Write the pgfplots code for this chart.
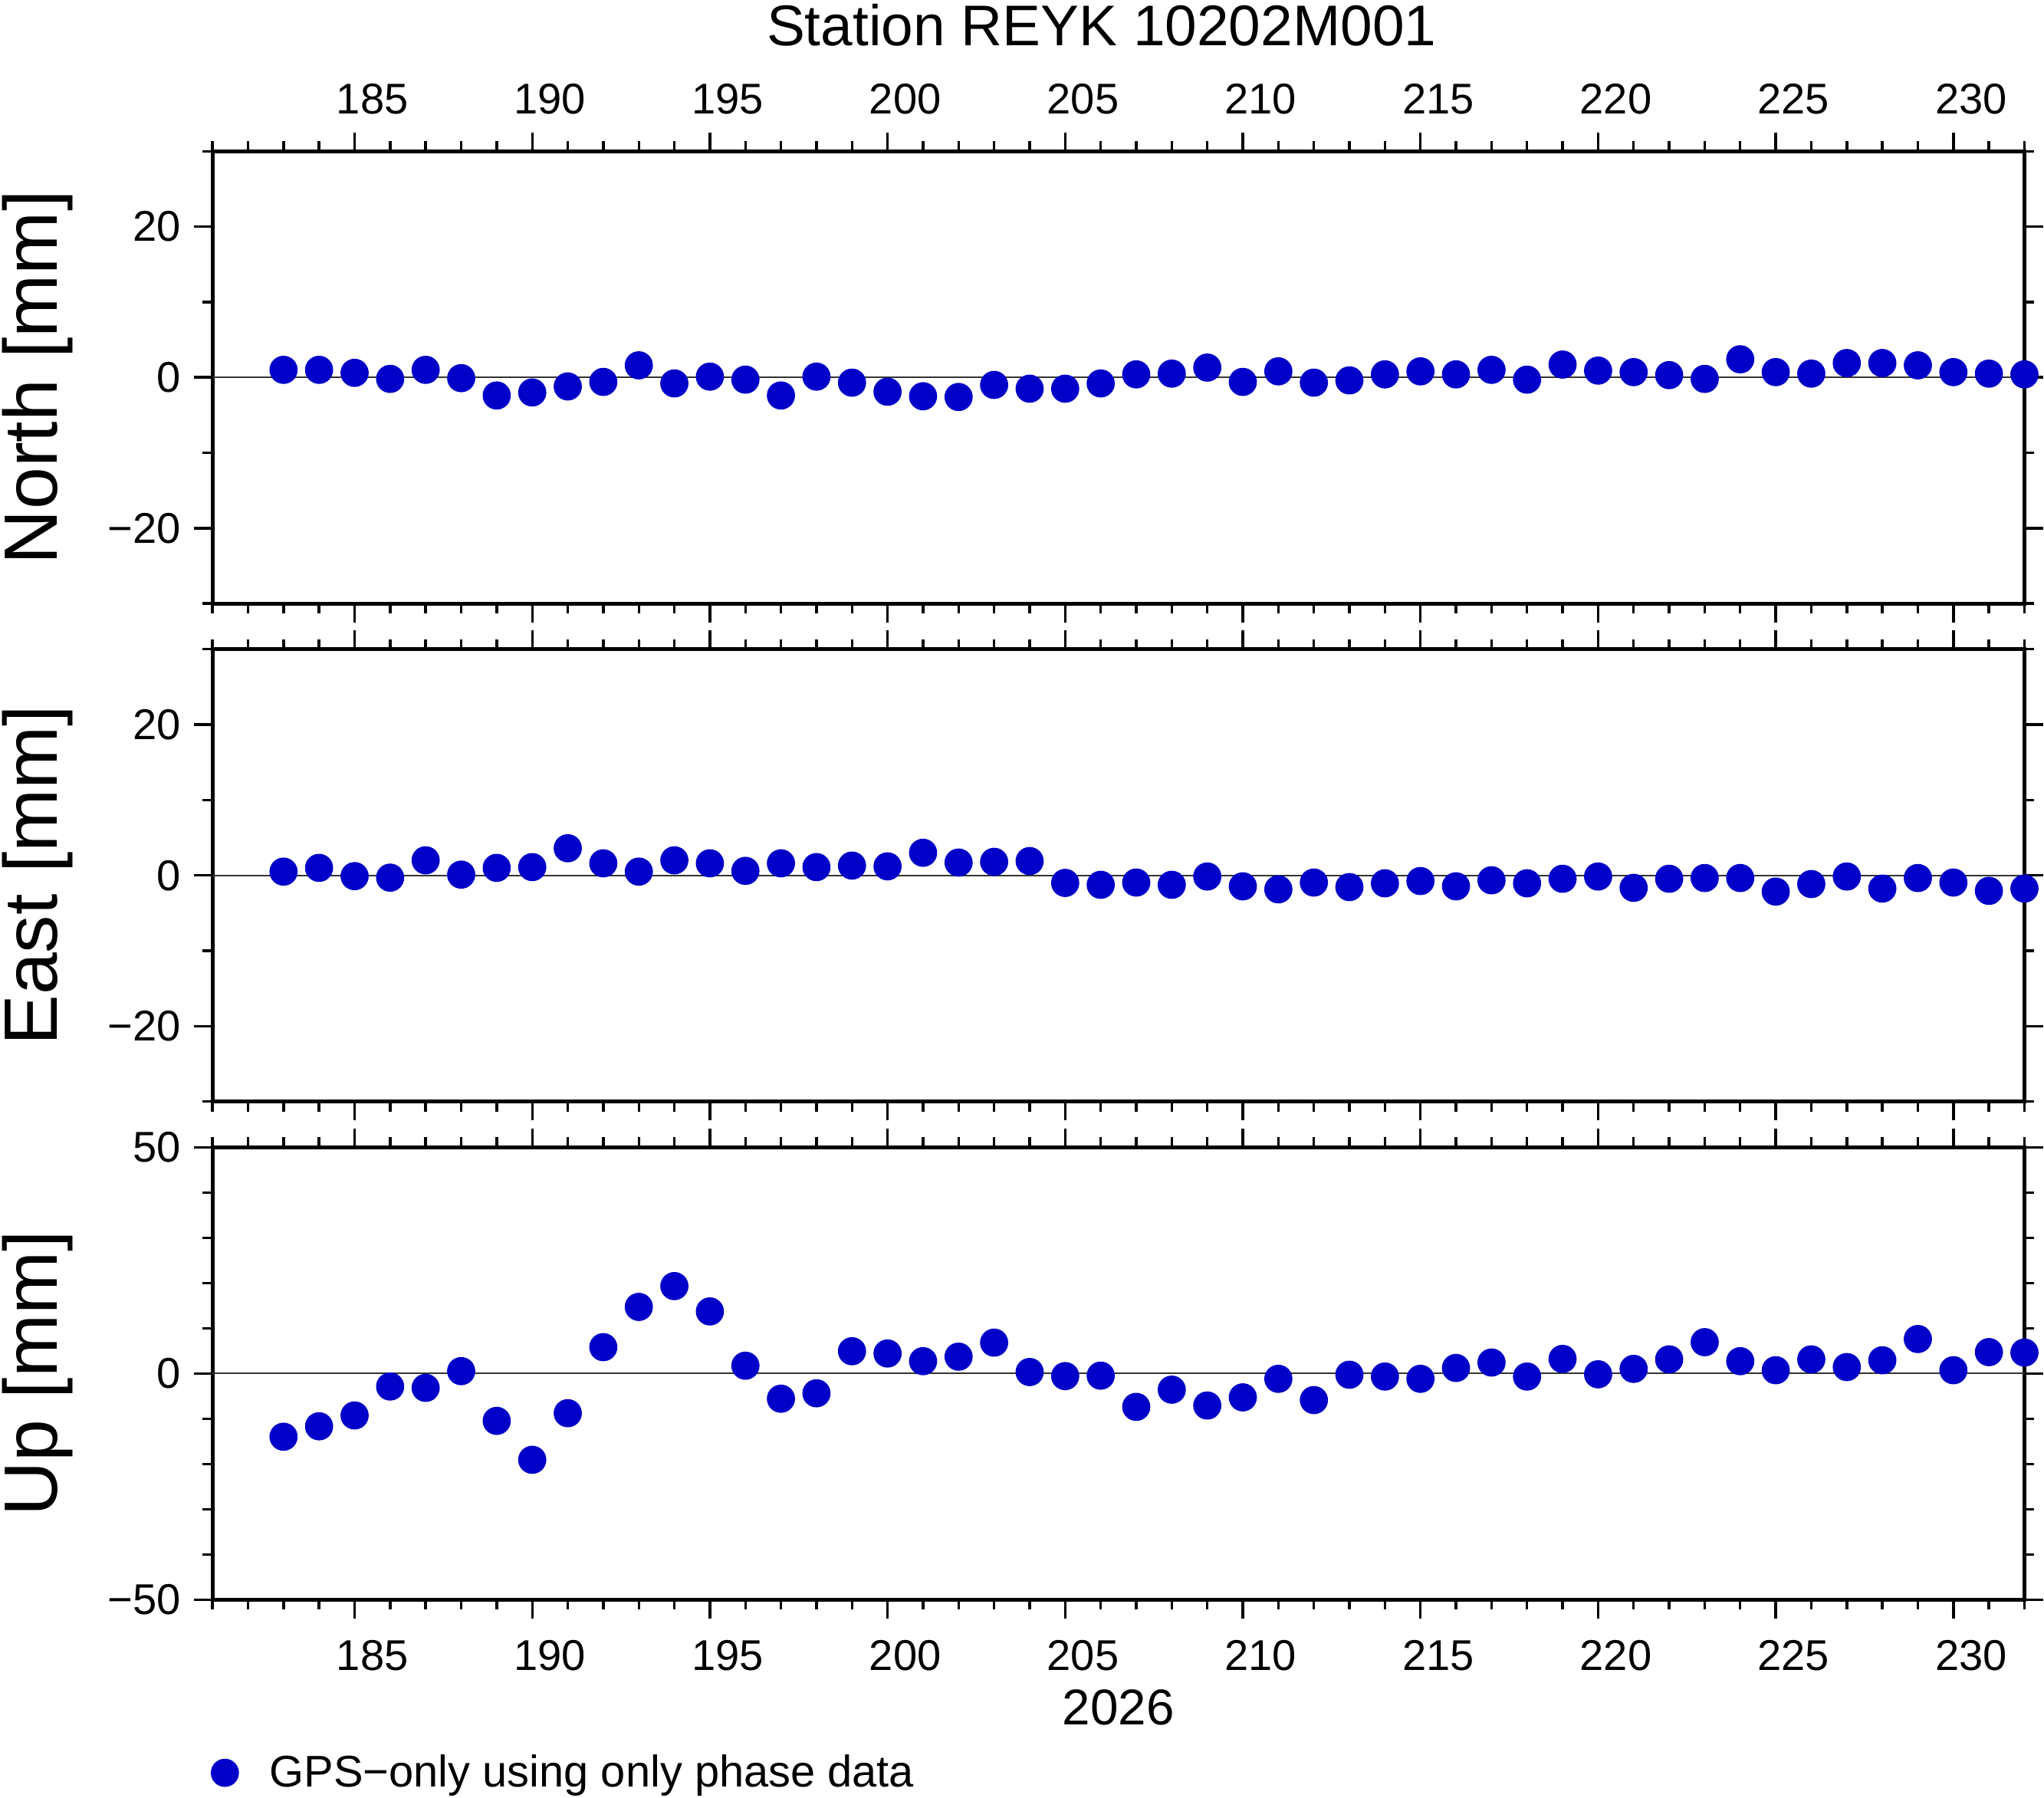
\documentclass[border=0pt]{standalone}
\usepackage{pgfplots}
\pgfplotsset{compat=1.18}
\usepackage{pgfplotstable}
\usepackage{fontspec}
\setmainfont{Liberation Sans}
\definecolor{gmtblue}{RGB}{0,0,200}

\pgfplotstableread{
x y
183 1.0
184 1.0
185 0.6
186 -0.2
187 1.0
188 -0.1
189 -2.4
190 -2.0
191 -1.2
192 -0.6
193 1.6
194 -0.8
195 0.1
196 -0.3
197 -2.4
198 0.1
199 -0.7
200 -1.9
201 -2.5
202 -2.6
203 -1.0
204 -1.5
205 -1.5
206 -0.8
207 0.4
208 0.5
209 1.3
210 -0.6
211 0.8
212 -0.7
213 -0.4
214 0.4
215 0.8
216 0.4
217 1.0
218 -0.3
219 1.7
220 0.9
221 0.7
222 0.3
223 -0.2
224 2.4
225 0.7
226 0.5
227 1.9
228 1.9
229 1.6
230 0.7
231 0.5
232 0.4
}\north

\pgfplotstableread{
x y
183 0.5
184 1.0
185 -0.1
186 -0.3
187 2.0
188 0.1
189 1.0
190 1.1
191 3.6
192 1.6
193 0.5
194 2.0
195 1.6
196 0.6
197 1.6
198 1.1
199 1.3
200 1.2
201 3.0
202 1.7
203 1.8
204 1.9
205 -1.0
206 -1.25
207 -0.95
208 -1.25
209 -0.15
210 -1.45
211 -1.85
212 -0.95
213 -1.55
214 -1.05
215 -0.75
216 -1.45
217 -0.65
218 -1.05
219 -0.45
220 -0.15
221 -1.65
222 -0.45
223 -0.35
224 -0.35
225 -2.15
226 -1.15
227 -0.15
228 -1.75
229 -0.35
230 -0.95
231 -2.05
232 -1.75
}\east

\pgfplotstableread{
x y
183 -14.0
184 -11.7
185 -9.3
186 -2.9
187 -3.2
188 0.5
189 -10.5
190 -19.1
191 -8.8
192 5.8
193 14.7
194 19.3
195 13.7
196 1.7
197 -5.6
198 -4.4
199 4.9
200 4.4
201 2.7
202 3.7
203 6.8
204 0.3
205 -0.6
206 -0.5
207 -7.4
208 -3.6
209 -7.1
210 -5.3
211 -1.2
212 -5.9
213 -0.3
214 -0.7
215 -1.2
216 1.2
217 2.4
218 -0.7
219 3.2
220 -0.2
221 1.0
222 3.1
223 6.9
224 2.7
225 0.7
226 3.1
227 1.4
228 2.9
229 7.6
230 0.7
231 4.7
232 4.6
}\up

\pgfplotsset{
  panel/.style={
    scale only axis, width=695pt, height=173.5pt,
    xmin=181, xmax=232,
    xtick={185,190,...,230}, minor xtick={181,...,232},
    tick align=outside, tick pos=both,
    major tick length=7.2pt, minor tick length=3.8pt,
    tick style={black, line width=1pt},
    axis line style={line width=1.4pt},
    clip=false,
    yticklabel pos=left,
    ticklabel style={font=\fontsize{16.5}{18}\selectfont},
    /pgf/number format/assume math mode=true,
    xticklabel style={xshift=6.8pt},
    yticklabel style={xshift=-1.5pt},
    ylabel style={at={(axis description cs:-0.0965,0.5)}, anchor=center,
      font=\fontsize{29}{31}\selectfont},
  },
  dots/.style={only marks, color=gmtblue, mark=*, mark size=5.25pt,
    mark options={solid, draw=gmtblue, fill=gmtblue, line width=0.3pt}},
  zline/.style={black!80, line width=0.5pt, forget plot},
}

\begin{document}
\begin{tikzpicture}
\useasboundingbox (0,0) rectangle (784pt,689.6pt);

\node[anchor=base, font=\fontsize{22}{24}\selectfont] at (422.5pt,672.1pt) {Station REYK 10202M001};

\begin{axis}[panel, at={(81.5pt,458.1pt)}, anchor=south west,
  ymin=-30, ymax=30, ytick={-20,0,20}, minor ytick={-30,-10,10,30},
  yticklabels={−20,0,20},
  xticklabel pos=right,
  xticklabel style={yshift=3.5pt},
  ylabel={North [mm]}]
\addplot[zline] coordinates {(181,0) (232,0)};
\addplot[dots] table {\north};
\end{axis}

\begin{axis}[panel, at={(81.5pt,267.1pt)}, anchor=south west,
  ymin=-30, ymax=30, ytick={-20,0,20}, minor ytick={-30,-10,10,30},
  yticklabels={−20,0,20},
  xticklabel={\mbox{}},
  ylabel={East [mm]}]
\addplot[zline] coordinates {(181,0) (232,0)};
\addplot[dots] table {\east};
\end{axis}

\begin{axis}[panel, at={(81.5pt,76.1pt)}, anchor=south west,
  ymin=-50, ymax=50, ytick={-50,0,50}, minor ytick={-40,-30,-20,-10,10,20,30,40},
  yticklabels={−50,0,50},
  xticklabel style={yshift=-5pt},
  ylabel={Up [mm]},
  xlabel={2026},
  xlabel style={at={(axis description cs:0.5,-0.2767)}, anchor=base,
    font=\fontsize{19.3}{21}\selectfont},
  legend style={draw=none, fill=none, at={(axis description cs:-0.0015,-0.383)},
    anchor=west, inner sep=0pt, font=\fontsize{17}{19}\selectfont},
  legend cell align=left,
  legend image code/.code={\path (0pt,0pt) (20.4pt,0pt); \draw[#1] plot coordinates {(5.4pt,0pt)};}]
\addplot[zline] coordinates {(181,0) (232,0)};
\addplot[dots] table {\up};
\addlegendentry{GPS−only using only phase data}
\end{axis}
\end{tikzpicture}
\end{document}
